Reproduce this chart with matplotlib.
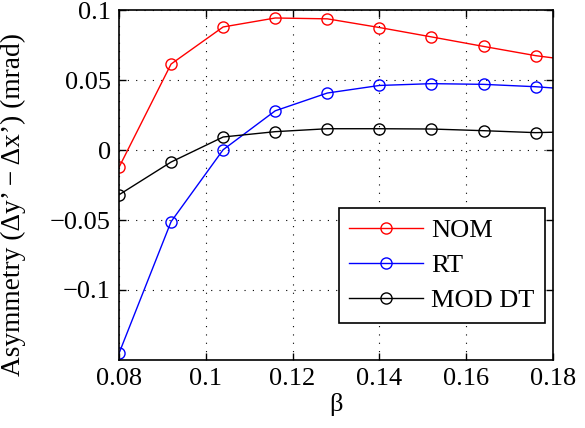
import matplotlib
matplotlib.use("Agg")
import matplotlib.pyplot as plt

# beta values where the markers sit (last point only carries the line)
beta = [0.08, 0.092, 0.104, 0.116, 0.128, 0.14, 0.152, 0.164, 0.176, 0.18]
nom = [-0.0124, 0.0614, 0.0879, 0.0943, 0.0937, 0.0875, 0.0808, 0.0740, 0.0674, 0.0658]
rt = [-0.1453, -0.0512, 0.0002, 0.0280, 0.0407, 0.0461, 0.0474, 0.0469, 0.0452, 0.0443]
mod_dt = [-0.0320, -0.0086, 0.0093, 0.0131, 0.0152, 0.0152, 0.0150, 0.0138, 0.0124, 0.0127]

series = [("NOM", nom, "#ff0000"), ("RT", rt, "#0000ff"), ("MOD DT", mod_dt, "#000000")]

xticks = [0.08, 0.1, 0.12, 0.14, 0.16, 0.18]
xticklabels = ["0.08", "0.1", "0.12", "0.14", "0.16", "0.18"]
yticks = [-0.1, -0.05, 0, 0.05, 0.1]
yticklabels = ["\u22120.1", "\u22120.05", "0", "0.05", "0.1"]

plt.rcParams["font.family"] = ["Liberation Serif", "DejaVu Serif"]
plt.rcParams["font.size"] = 19

fig = plt.figure(figsize=(5.85, 4.28), dpi=100)
ax = fig.add_axes([0.2034, 0.1589, 0.7419, 0.8177])

marks = list(range(len(beta) - 1))
for name, vals, color in series:
    ax.plot(beta, vals, "-o", color=color, linewidth=1.0, markersize=8,
            markerfacecolor="none", markeredgewidth=1.0, markevery=marks,
            label=name)

ax.set_xlim(0.08, 0.18)
ax.set_ylim(-0.15, 0.1)
ax.set_xticks(xticks)
ax.set_xticklabels(xticklabels)
ax.set_yticks(yticks)
ax.set_yticklabels(yticklabels)

ax.tick_params(direction="in", length=5, width=1.0, top=True, right=True, pad=6)
ax.grid(True, color="black", linestyle=(0, (1, 6.5)), linewidth=0.8)
for spine in ax.spines.values():
    spine.set_linewidth(1.2)

ax.set_xlabel("\u03b2", labelpad=2)
ax.set_ylabel("Asymmetry (\u0394y\u2019 \u2212 \u0394x\u2019) (mrad)", fontsize=19.7)
ax.yaxis.set_label_coords(-0.215, 0.445)

leg = ax.legend(loc="lower right", bbox_to_anchor=(0.9816, 0.1057), borderaxespad=0,
                fontsize=19, handlelength=2.8, fancybox=False, framealpha=1,
                edgecolor="black", borderpad=0.4, labelspacing=0.45, handletextpad=0.3)
leg.get_frame().set_linewidth(1.2)

fig.savefig("out.png", dpi=100)
